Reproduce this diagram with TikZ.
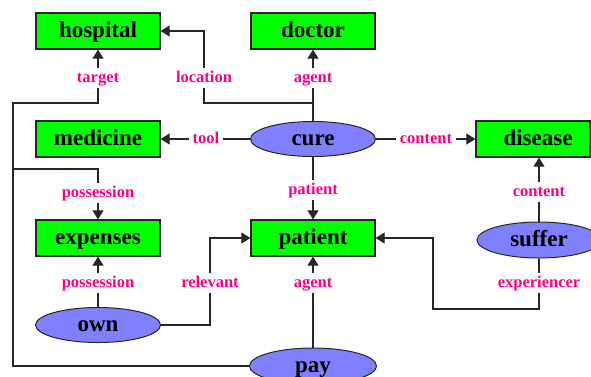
\documentclass[tikz,border=0pt]{standalone}
\usepackage{fontspec}
\setmainfont{Liberation Serif}
\usetikzlibrary{arrows.meta,shapes.geometric}
\definecolor{boxgreen}{RGB}{0,255,0}
\definecolor{evblue}{RGB}{128,128,255}
\definecolor{relpink}{RGB}{255,0,128}
\begin{document}
\begin{tikzpicture}[x=1pt,y=-1pt,
  concept/.style={rectangle,draw=black!85,line width=1.3pt,fill=boxgreen,
    minimum width=124pt,minimum height=36pt,inner sep=0pt,
    text height=16pt,text depth=4pt,
    font=\fontsize{23}{25}\selectfont\bfseries},
  event/.style={ellipse,draw=black!85,line width=1pt,fill=evblue,
    minimum width=125pt,minimum height=35pt,inner sep=0pt,
    text height=16pt,text depth=4pt,
    font=\fontsize{23}{25}\selectfont\bfseries},
  rel/.style={fill=white,text=relpink,inner xsep=4pt,inner ysep=3pt,
    text height=11pt,text depth=3pt,
    font=\fontsize{16.5}{18}\selectfont\bfseries},
  link/.style={line width=1.1pt,draw=black!85},
  arr/.style={link,-{Triangle[length=9pt,width=11pt]}}]
\useasboundingbox (0,0) rectangle (591,376);
\begin{scope}
\clip (0,0) rectangle (591,376);

% concepts
\node[concept] (hospital) at (98,31) {hospital};
\node[concept] (doctor)   at (313,31) {doctor};
\node[concept] (medicine) at (98,139) {medicine};
\node[concept,minimum width=114pt] (disease) at (533,139) {\hspace*{10pt}disease};
\node[concept] (expenses) at (98,238) {expenses};
\node[concept] (patient)  at (313,238) {patient};

% events
\node[event] (cure)   at (313,139) {cure};
\node[event,minimum width=124pt,minimum height=36pt] (suffer) at (539,240) {suffer};
\node[event] (own)    at (98,325) {own};
\node[event,minimum width=127pt,minimum height=36pt] (pay) at (313,366) {pay};

% bend points
\coordinate (locbend) at (204,103);
\coordinate (expbend) at (433,309);
\coordinate (ownbend) at (210,238);
\coordinate (paycorner) at (13,103);
\coordinate (possbranch) at (13,169);

% connectors
\draw[arr] (cure.north) |- (locbend) |- (hospital.east);
\draw[arr] (cure.north) -- (doctor.south);
\draw[arr] (cure.west) -- (medicine.east);
\draw[arr] (cure.east) -- (disease.west);
\draw[arr] (cure.south) -- (patient.north);
\draw[arr] (suffer.north) -- (suffer.north |- disease.south);
\draw[arr] (suffer.south) |- (expbend) |- (patient.east);
\draw[arr] (own.north) -- (expenses.south);
\draw[arr] (own.east) -| (ownbend) -- (patient.west);
\draw[arr] (pay.north) -- (patient.south);
\draw[arr] (pay.west) -| (paycorner) -| (hospital.south);
\draw[arr] (possbranch) -| (expenses.north);

% relation labels
\node[rel] (lloc)  at (204,78) {location};
\node[rel] (lagt1) at (313,78) {agent};
\node[rel] (ltgt)  at (98,78) {target};
\node[rel] (ltool) at (206,139) {tool};
\node[rel] (lcon1) at (426,139) {content};
\node[rel] (lpat)  at (313,190) {patient};
\node[rel] (lpos1) at (98,193) {possession};
\node[rel] (lcon2) at (539,192) {content};
\node[rel] (lpos2) at (98,283) {possession};
\node[rel] (lrelv) at (210,283) {relevant};
\node[rel] (lagt2) at (313,283) {agent};
\node[rel] (lexp)  at (539,283) {experiencer};
\end{scope}
\end{tikzpicture}
\end{document}
